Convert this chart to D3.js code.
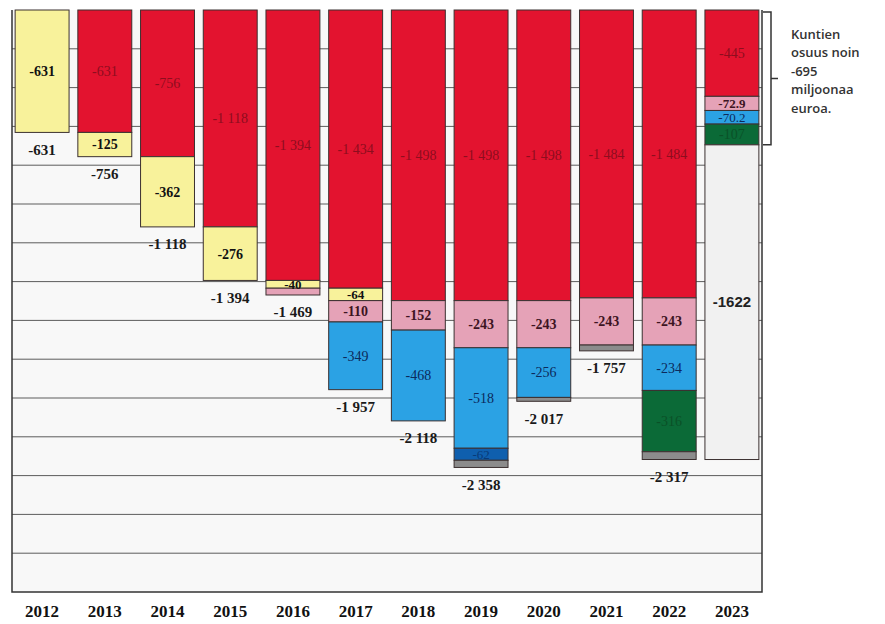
<!DOCTYPE html>
<html>
<head>
<meta charset="utf-8">
<script src="https://cdn.jsdelivr.net/npm/d3@7"></script>
<style>
  html, body { margin: 0; padding: 0; background: #ffffff; }
  svg { display: block; }
</style>
</head>
<body>
<svg id="chart" width="885" height="624"></svg>
<script>
// ---- data ----
const years = ["2012","2013","2014","2015","2016","2017","2018","2019","2020","2021","2022","2023"];
const red      = [0, -631, -756, -1118, -1394, -1434, -1498, -1498, -1498, -1484, -1484, -445];
const yellow   = [-631, -125, -362, -276, -40, -64, 0, 0, 0, 0, 0, 0];
const pink     = [0, 0, 0, 0, -35, -110, -152, -243, -243, -243, -243, -72.9];
const blue     = [0, 0, 0, 0, 0, -349, -468, -518, -256, 0, -234, -70.2];
const darkBlue = [0, 0, 0, 0, 0, 0, 0, -62, 0, 0, 0, 0];
const green    = [0, 0, 0, 0, 0, 0, 0, 0, 0, 0, -316, -107];
const grey     = [0, 0, 0, 0, 0, 0, 0, -37, -20, -30, -40, 0];
const rest     = [0, 0, 0, 0, 0, 0, 0, 0, 0, 0, 0, -1622];
const yTicks   = [0, -200, -400, -600, -800, -1000, -1200, -1400, -1600, -1800, -2000, -2200, -2400, -2600, -2800, -3000];
const noteLines = ["Kuntien", "osuus noin", "-695", "miljoonaa", "euroa."];

(function () {
// ---- setup ----
const svg = d3.select("#chart");
const pLeft = 12, pRight = 762, pTop = 10, pBottom = 592;

const x = d3.scaleBand().domain(years).range([pLeft, pRight]).paddingInner(0.14).paddingOuter(0.05);
const y = d3.scaleLinear().domain([0, -3000]).range([pTop, pBottom]);

const fi = d3.formatLocale({decimal: ".", thousands: "\u00a0", grouping: [3], currency: ["", " €"], minus: "-"});
const fmtInt = fi.format(",d");
const fmtPlain = fi.format("d");
const fmtDec = fi.format(".1f");

const series = [
  {key: "red",      vals: red,      fill: "#e3132f", label: "#8e0d1e", weight: "normal", show: v => v !== 0},
  {key: "yellow",   vals: yellow,   fill: "#f8f29b", label: "#111111", weight: "bold",   show: v => v !== 0},
  {key: "pink",     vals: pink,     fill: "#e5a2b7", label: "#3d1422", weight: "bold",   show: v => v <= -60},
  {key: "blue",     vals: blue,     fill: "#2ba2e4", label: "#0c2a5c", weight: "normal", show: v => v !== 0},
  {key: "darkBlue", vals: darkBlue, fill: "#0f5fae", label: "#083a78", weight: "normal", show: v => v !== 0},
  {key: "green",    vals: green,    fill: "#0b6a37", label: "#0a5128", weight: "normal", show: v => v !== 0},
  {key: "grey",     vals: grey,     fill: "#8c8c8c", label: "#333",    weight: "normal", show: v => false},
  {key: "rest",     vals: rest,     fill: "#f1f1f1", label: "#222",    weight: "bold",   show: v => v !== 0}
];

const table = years.map((yr, i) => {
  const row = {year: yr};
  series.forEach(s => row[s.key] = s.vals[i]);
  return row;
});

const stack = d3.stack().keys(series.map(s => s.key)).offset(d3.stackOffsetDiverging);
const stacked = stack(table);

// plot background
svg.append("rect").attr("x", pLeft).attr("y", pTop).attr("width", pRight - pLeft).attr("height", pBottom - pTop)
  .attr("fill", "#f8f8f8");

// gridlines
svg.append("g").selectAll("line").data(yTicks.filter(t => t !== 0 && t !== -3000)).join("line")
  .attr("x1", pLeft).attr("x2", pRight)
  .attr("y1", d => y(d)).attr("y2", d => y(d))
  .attr("stroke", "#5c5c5c").attr("stroke-width", 1);

// bars
stacked.forEach((layer, li) => {
  const s = series[li];
  svg.append("g").selectAll("rect").data(layer.filter(d => d[1] !== d[0])).join("rect")
    .attr("x", d => x(d.data.year))
    .attr("width", x.bandwidth())
    .attr("y", d => y(Math.max(d[0], d[1])))
    .attr("height", d => Math.abs(y(d[0]) - y(d[1])))
    .attr("fill", s.fill)
    .attr("stroke", "#3b3030")
    .attr("stroke-width", 1);
});

// segment labels
stacked.forEach((layer, li) => {
  const s = series[li];
  const items = layer.filter((d, i) => s.show(s.vals[i])).map(d => ({d, v: d.data[s.key]}));
  svg.append("g").selectAll("text").data(items).join("text")
    .attr("x", o => x(o.d.data.year) + x.bandwidth() / 2)
    .attr("y", o => (y(o.d[0]) + y(o.d[1])) / 2)
    .attr("dy", "0.35em")
    .attr("text-anchor", "middle")
    .attr("font-family", s.key === "rest" ? "Liberation Sans, Arial, sans-serif" : "Liberation Serif, Times New Roman, serif")
    .attr("font-size", o => s.key === "rest" ? 15 : (Math.abs(o.v) < 80 ? 13 : 14))
    .attr("font-weight", s.weight)
    .attr("fill", s.label)
    .text(o => s.key === "rest" ? fmtPlain(o.v) : (Number.isInteger(o.v) ? fmtInt(o.v) : fmtDec(o.v)));
});

// totals below bars (not for 2023)
const totals = table.map(r => ({year: r.year, total: d3.sum(series, s => r[s.key])}));
svg.append("g").selectAll("text").data(totals.filter(t => t.year !== "2023")).join("text")
  .attr("x", t => x(t.year) + x.bandwidth() / 2)
  .attr("y", t => y(t.total) + 17)
  .attr("dy", "0.35em")
  .attr("text-anchor", "middle")
  .attr("font-family", "Liberation Serif, Times New Roman, serif")
  .attr("font-size", 15)
  .attr("font-weight", "bold")
  .attr("fill", "#1a1a1a")
  .text(t => fmtInt(t.total));

// frame
svg.append("path")
  .attr("d", `M${pLeft},${pTop}V${pBottom}H${pRight}V${pTop}`)
  .attr("fill", "none").attr("stroke", "#333").attr("stroke-width", 1.5);

// year axis labels
const xAxis = d3.axisBottom(x).tickSize(0).tickPadding(13);
const ax = svg.append("g").attr("transform", `translate(0,${pBottom})`).call(xAxis);
ax.select(".domain").remove();
ax.selectAll("text")
  .attr("font-family", "Liberation Serif, Times New Roman, serif")
  .attr("font-size", 17).attr("font-weight", "bold").attr("fill", "#111");

// bracket annotation for 2023 municipal share
const bx = 771;
const bTop = y(0) + 2;
const bBot = y(d3.sum(series.slice(0, 6), s => s.vals[11]));
svg.append("path")
  .attr("d", `M${bx - 8},${bTop}H${bx}V${bBot}H${bx - 8}M${bx},${(bTop + bBot) / 2}H${bx + 7}`)
  .attr("fill", "none").attr("stroke", "#333").attr("stroke-width", 1.5);

svg.append("g").selectAll("text").data(noteLines).join("text")
  .attr("x", 791)
  .attr("y", (d, i) => 34 + i * 18.5)
  .attr("dy", "0.35em")
  .attr("font-family", "Open Sans, sans-serif")
  .attr("font-size", 13)
  .attr("font-weight", 600)
  .attr("fill", "#333")
  .text(d => d);
})();
</script>
</body>
</html>
